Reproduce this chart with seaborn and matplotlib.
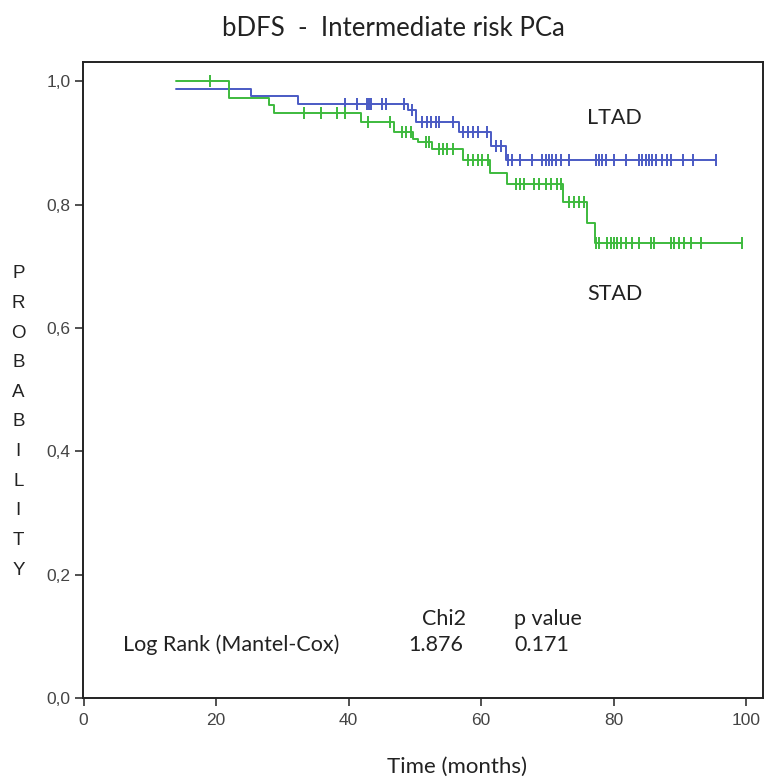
#!/usr/bin/env python3
"""Kaplan-Meier style bDFS chart, intermediate risk PCa (LTAD vs STAD)."""

import matplotlib

matplotlib.use("Agg")
import matplotlib.pyplot as plt
import numpy as np
import pandas as pd
import seaborn as sns

# LTAD (blue): step times, survival after each step, last follow-up, censor times
ltad_times = [14.0, 25.3, 32.3, 48.9, 50.2, 56.7, 61.5, 63.8]
ltad_surv = [0.987, 0.976, 0.963, 0.953, 0.934, 0.917, 0.895, 0.872]
ltad_end = 95.5
ltad_censor = [39.4, 41.3, 42.7, 43.0, 43.4, 45.1, 45.7, 48.4, 49.6, 51.1, 51.9,
               52.5, 53.2, 53.7, 55.7, 57.2, 58.0, 58.8, 59.6, 60.9, 62.3, 63.0,
               64.0, 64.7, 65.8, 67.7, 69.2, 69.8, 70.3, 70.7, 71.3, 72.1, 73.3,
               77.4, 77.8, 78.3, 78.9, 80.1, 81.9, 83.9, 84.3, 84.9, 85.4, 85.8,
               86.4, 87.3, 88.1, 88.7, 90.4, 92.0, 95.5]

# STAD (green)
stad_times = [14.0, 21.9, 28.0, 28.8, 41.9, 46.9, 49.7, 50.4, 52.6, 57.3, 61.3,
              63.9, 72.3, 76.0, 77.2]
stad_surv = [1.0, 0.973, 0.961, 0.949, 0.934, 0.917, 0.907, 0.901, 0.890, 0.872,
             0.851, 0.833, 0.804, 0.770, 0.738]
stad_end = 99.4
stad_censor = [19.0, 33.3, 35.9, 38.2, 39.4, 42.9, 46.2, 48.0, 48.7, 49.4, 51.7,
               52.2, 53.7, 54.2, 54.8, 55.7, 58.0, 58.7, 59.5, 60.2, 61.0, 65.3,
               65.8, 66.5, 68.0, 68.8, 69.8, 70.6, 71.5, 72.1, 73.3, 74.0, 74.8,
               75.6, 77.4, 77.8, 79.0, 79.6, 80.1, 80.5, 81.1, 81.9, 82.8, 83.9,
               85.7, 86.1, 88.7, 89.1, 89.9, 90.6, 91.7, 93.2, 99.4]

group_names = ["LTAD", "STAD"]
colors = {"LTAD": "#4a5ac4", "STAD": "#3dba3d"}

chi2_value = "1.876"
p_value = "0.171"


def step_frame(name, times, surv, end):
    t = list(times) + [end]
    s = list(surv) + [surv[-1]]
    return pd.DataFrame({"time": t, "surv": s, "group": name})


def censor_frame(name, times, surv, censor):
    idx = np.searchsorted(times, censor, side="right") - 1
    return pd.DataFrame({"time": censor, "surv": np.asarray(surv)[idx], "group": name})


def main() -> None:
    sns.set_style("white")
    plt.rcParams["font.family"] = ["Liberation Sans", "DejaVu Sans"]

    fig = plt.figure(figsize=(7.65, 7.81), dpi=100)
    ax = fig.add_axes([0.1085, 0.1063, 0.889, 0.8143])

    steps = pd.concat([
        step_frame("LTAD", ltad_times, ltad_surv, ltad_end),
        step_frame("STAD", stad_times, stad_surv, stad_end),
    ])
    marks = pd.concat([
        censor_frame("LTAD", ltad_times, ltad_surv, ltad_censor),
        censor_frame("STAD", stad_times, stad_surv, stad_censor),
    ])

    for name in group_names:
        sub = steps[steps["group"] == name]
        sns.lineplot(data=sub, x="time", y="surv", ax=ax, color=colors[name],
                     estimator=None, sort=False, drawstyle="steps-post",
                     linewidth=1.4, legend=False)
        cm = marks[marks["group"] == name]
        sns.scatterplot(data=cm, x="time", y="surv", ax=ax, color=colors[name],
                        marker="|", s=80, linewidth=1.4, legend=False, zorder=3)

    ax.set_xlim(-0.1, 102.56)
    ax.set_ylim(0, 1.031)
    ax.set_xticks([0, 20, 40, 60, 80, 100])
    ax.set_yticks([0.0, 0.2, 0.4, 0.6, 0.8, 1.0])
    ax.set_yticklabels(["0,0", "0,2", "0,4", "0,6", "0,8", "1,0"])
    ax.tick_params(axis="both", direction="out", length=6, width=1.2,
                   colors="#333333", labelsize=12.5, labelcolor="#444444",
                   left=True, bottom=True)
    ax.tick_params(axis="x", pad=5)
    ax.tick_params(axis="y", pad=3)
    ax.set_xlabel("")
    ax.set_ylabel("")
    for spine in ax.spines.values():
        spine.set_color("#222222")
        spine.set_linewidth(1.4)

    txt = dict(family=["Lato", "DejaVu Sans"], color="#222222")
    fig.text(0.514, 0.964, "bDFS  -  Intermediate risk PCa", ha="center",
             va="center", fontsize=18.5, **txt)
    fig.text(0.597, 0.018, "Time (months)", ha="center", va="center",
             fontsize=16, **txt)
    fig.text(0.024, 0.4597, "\n".join("PROBABILITY"), ha="center", va="center",
             fontsize=13.5, linespacing=1.97, color="#222222")

    fs = 15.5
    ax.text(76.0, 0.940, "LTAD", ha="left", va="center", fontsize=fs, **txt)
    ax.text(76.0, 0.655, "STAD", ha="left", va="center", fontsize=fs, **txt)
    ax.text(54.4, 0.128, "Chi2", ha="center", va="center", fontsize=fs, **txt)
    ax.text(70.1, 0.128, "p value", ha="center", va="center", fontsize=fs, **txt)
    ax.text(5.9, 0.086, "Log Rank (Mantel-Cox)", ha="left", va="center",
            fontsize=fs, **txt)
    ax.text(53.1, 0.086, chi2_value, ha="center", va="center", fontsize=fs, **txt)
    ax.text(69.2, 0.086, p_value, ha="center", va="center", fontsize=fs, **txt)

    fig.savefig("out.png", dpi=100)


if __name__ == "__main__":
    main()
